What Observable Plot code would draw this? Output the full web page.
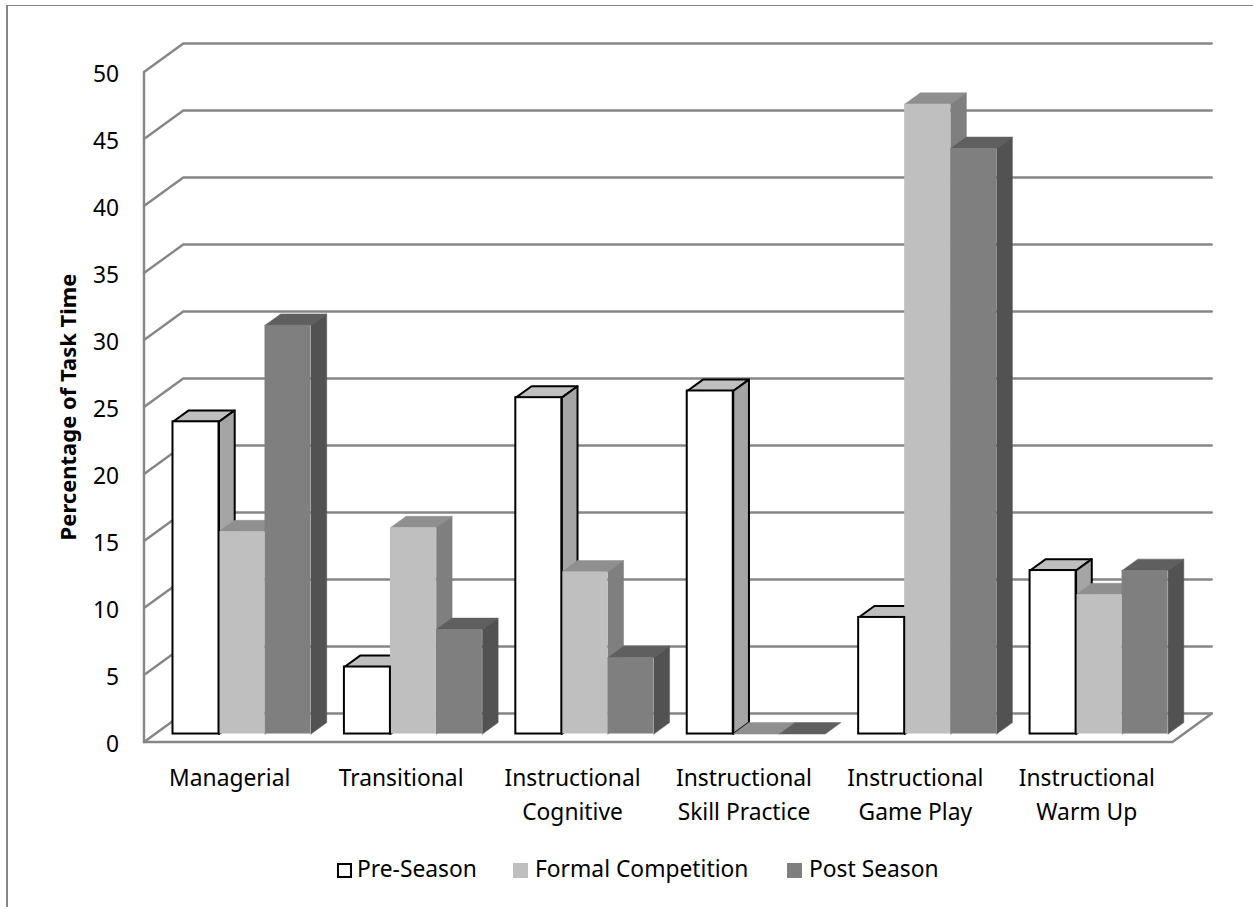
<!DOCTYPE html>
<html>
<head>
<meta charset="utf-8">
<script src="https://cdn.jsdelivr.net/npm/d3@7"></script>
<script src="https://cdn.jsdelivr.net/npm/@observablehq/plot@0.6"></script>
<style>
  html, body { margin: 0; padding: 0; background: #fff; overflow: hidden; }
  body { width: 1253px; height: 907px; position: relative; font-family: "Noto Sans", sans-serif; }
  #frame { position: absolute; left: 6px; top: 4.5px; width: 1300px; height: 1000px; border-left: 2px solid #868686; border-top: 1.5px solid #868686; box-sizing: border-box; pointer-events: none; }
  #chart svg { display: block; }
  #legend { position: absolute; left: 0; top: 850px; width: 1253px; height: 40px; font-size: 22.8px; color: #000; }
  #legend i { position: absolute; top: 13px; width: 15px; height: 15px; box-sizing: border-box; }
  #legend span { position: absolute; top: 3px; line-height: 32px; white-space: nowrap; }
</style>
</head>
<body>
<div id="chart"></div>
<div id="legend"></div>
<div id="frame"></div>
<script>
// Share of task time per coaching category, one series per part of the season.
const categories = [
  "Managerial",
  "Transitional",
  "Instructional\nCognitive",
  "Instructional\nSkill Practice",
  "Instructional\nGame Play",
  "Instructional\nWarm Up"
];
const seriesNames = ["Pre-Season", "Formal Competition", "Post Season"];
const preSeason = [23.3, 5.0, 25.1, 25.6, 8.7, 12.2];
const formalCompetition = [15.1, 15.4, 12.1, 0, 47.0, 10.4];
const postSeason = [30.5, 7.8, 5.7, 0, 43.7, 12.2];
const yTicks = [0, 5, 10, 15, 20, 25, 30, 35, 40, 45, 50];

const seriesValues = [preSeason, formalCompetition, postSeason];
const frontColors = ["#ffffff", "#bfbfbf", "#7f7f7f"];
const topColors = ["#bfbfbf", "#8f8f8f", "#5f5f5f"];
const sideColors = ["#a5a5a5", "#7f7f7f", "#525252"];
const gridColor = "#868686";
const gridWidth = 2.4;

// Oblique projection: depth d in [0, 1] shifts a point right and up, in data units.
const depthX = 0.229;
const depthY = 2.127;
const project = (u, v, d) => ({u: u + d * depthX, v: v + d * depthY});

// Bars sit between these depths on the floor; each category is one x unit wide.
const barNear = 0.28;
const barFar = 0.68;
const barWidth = 0.2684;
const barStart = 0.105;

const polygon = (points, fill, stroke) =>
  Plot.line([...points, points[0]], {
    x: "u", y: "v", fill,
    stroke: stroke || fill,
    strokeWidth: stroke ? 2 : 0.5,
    strokeLinejoin: "round"
  });

const wallMarks = [
  // left wall edge and floor outline
  Plot.line([project(0, 50, 0), project(0, 0, 0)], {x: "u", y: "v", stroke: gridColor, strokeWidth: gridWidth}),
  Plot.line([project(0, 0, 0), project(6, 0, 0), project(6, 0, 1)], {x: "u", y: "v", stroke: gridColor, strokeWidth: gridWidth}),
  // each gridline runs up the side wall, then along the back wall
  ...yTicks.map(t =>
    Plot.line([project(0, t, 0), project(0, t, 1), project(6, t, 1)], {x: "u", y: "v", stroke: gridColor, strokeWidth: gridWidth})
  )
];

const backFaces = [];
const frontFaces = [];
seriesValues.forEach((values, s) => {
  const outline = s === 0 ? "#000000" : null;
  values.forEach((value, c) => {
    const x0 = c + barStart + s * barWidth;
    const x1 = x0 + barWidth;
    const side = [project(x1, 0, barNear), project(x1, 0, barFar), project(x1, value, barFar), project(x1, value, barNear)];
    const top = [project(x0, value, barNear), project(x1, value, barNear), project(x1, value, barFar), project(x0, value, barFar)];
    if (value > 0) backFaces.push({order: c * 10 + s, marks: [polygon(top, topColors[s], outline), polygon(side, sideColors[s], outline)]});
    else backFaces.push({order: c * 10 + s, marks: [polygon(top, topColors[s], outline)]});
    const near = project(x0, 0, barNear);
    const far = project(x1, value, barNear);
    frontFaces.push({
      order: c * 10 - s,
      marks: [Plot.rect([{x1: near.u, x2: far.u, y1: near.v, y2: far.v}], {
        x1: "x1", x2: "x2", y1: "y1", y2: "y2",
        fill: frontColors[s],
        stroke: outline || "none",
        strokeWidth: 2
      })]
    });
  });
});
const inOrder = faces => faces.sort((a, b) => a.order - b.order).flatMap(f => f.marks);

const chart = Plot.plot({
  width: 1253,
  height: 850,
  marginLeft: 143.5,
  marginRight: 81,
  marginTop: 71.5,
  marginBottom: 108.5,
  style: {background: "transparent", fontFamily: "'Noto Sans', sans-serif", color: "#000"},
  x: {type: "linear", domain: [0, 6], range: [143.5, 1172]},
  y: {type: "linear", domain: [0, 50], range: [741.5, 71.5]},
  marks: [
    ...wallMarks,
    ...inOrder(backFaces),
    ...inOrder(frontFaces),
    Plot.axisY({
      ticks: yTicks,
      tickSize: 0,
      tickPadding: 25,
      fontSize: 22.8,
      dy: 3,
      label: null,
      fill: "#000"
    }),
    Plot.axisX({
      ticks: categories.map((_, i) => i + 0.5),
      tickFormat: d => categories[d - 0.5],
      tickSize: 0,
      tickPadding: 21,
      fontSize: 22.8,
      lineHeight: 1.45,
      label: null,
      fill: "#000"
    }),
    Plot.text(["Percentage of Task Time"], {
      text: d => d,
      frameAnchor: "left",
      textAnchor: "middle",
      dx: -75,
      rotate: -90,
      fontSize: 22,
      fontWeight: "bold",
      fill: "#000"
    })
  ]
});
document.getElementById("chart").appendChild(chart);

// Legend below the plot
const legendSwatchX = [337, 513, 787];
const legendTextX = [357, 535, 809];
const legend = document.getElementById("legend");
seriesNames.forEach((name, s) => {
  const swatch = document.createElement("i");
  swatch.style.left = legendSwatchX[s] + "px";
  swatch.style.background = frontColors[s];
  if (s === 0) swatch.style.border = "2px solid #000";
  legend.appendChild(swatch);
  const label = document.createElement("span");
  label.style.left = legendTextX[s] + "px";
  label.textContent = name;
  legend.appendChild(label);
});
</script>
</body>
</html>
